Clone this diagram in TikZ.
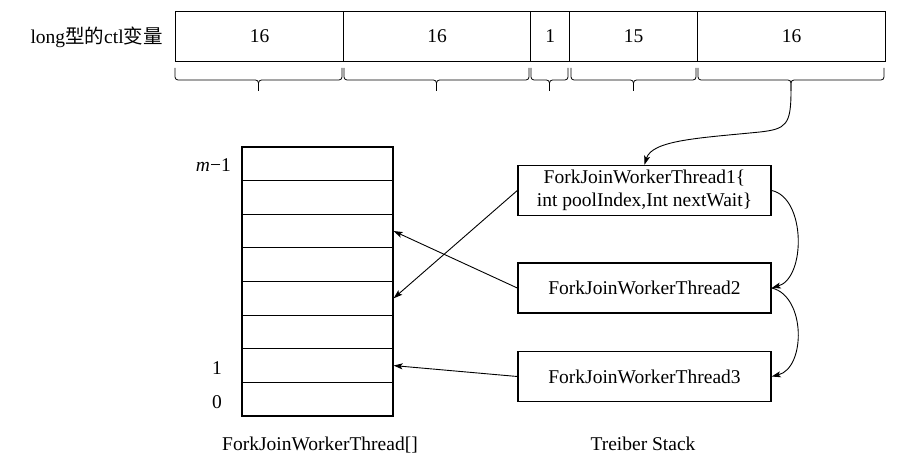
\documentclass[tikz,border=0pt]{standalone}
\usepackage{fontspec}
\setmainfont{Liberation Serif}
\newfontfamily\cjk{Noto Sans CJK SC}
\usetikzlibrary{arrows.meta}
\begin{document}
\begin{tikzpicture}[x=1pt,y=-1pt,
  every node/.style={font=\fontsize{19.5}{22}\selectfont},
  cell/.style={draw,line width=1.3pt,minimum height=50pt,inner sep=0pt,anchor=west},
  slot/.style={draw,line width=1.2pt,minimum width=151pt,minimum height=33.6pt,inner sep=0pt},
  tbox/.style={draw,line width=1.4pt,minimum width=253pt,minimum height=50pt,inner sep=0pt,align=center},
  bracepath/.style={line width=0.8pt,rounded corners=3pt},
  conn/.style={line width=0.9pt,-{Stealth[length=9pt,width=6pt,inset=2pt]}}]
\useasboundingbox[fill=white] (0,0) rectangle (919,470);

% top bar
\node[anchor=west] (ctl) at (27,37) {long{\cjk 型的}ctl{\cjk 变量}};
\node[cell,minimum width=168pt] (c1) at (175,36.5) {16};
\node[cell,minimum width=187pt] (c2) at (343,36.5) {16};
\node[cell,minimum width=39pt]  (c3) at (530,36.5) {1};
\node[cell,minimum width=128pt] (c4) at (569,36.5) {15};
\node[cell,minimum width=188pt] (c5) at (697,36.5) {16};

% braces
\foreach \a/\b/\n in {175/342/1,344/529/2,531/568/3,571/696/4,698/884/5}{
  \pgfmathsetmacro\m{(\a+\b)/2}
  \coordinate (tip\n) at (\m,91);
  \draw[bracepath] (\a,68) -- (\a,80) -- (\m,80) -- (tip\n);
  \draw[bracepath] (\b,68) -- (\b,80) -- (\m,80) -- (tip\n);
}
\coordinate (tip5) at (791,91);

% array
\foreach \k in {0,...,7}{
  \node[slot] (r\k) at (317.5,{416-33.625*(\k+0.5)}) {};
}
\node[anchor=east,inner sep=0pt] (lm) at (231,165) {\textit{m}−1};
\node (l1) at (217,368) {1};
\node (l0) at (217,402) {0};
\node (arrlabel) at (320,445) {ForkJoinWorkerThread[]};

% Treiber stack
\node[tbox,font=\fontsize{19.5}{23}\selectfont] (b1) at (644.5,190.5) {ForkJoinWorkerThread1\{\\int poolIndex,Int nextWait\}};
\node[tbox] (b2) at (644.5,288) {ForkJoinWorkerThread2};
\node[tbox] (b3) at (644.5,376.5) {ForkJoinWorkerThread3};
\node (stk) at (643,444) {Treiber Stack};

% connectors
\draw[conn] (tip5) .. controls (791,125) and (786,129) .. (760,132)
  .. controls (700,138) and (652,140) .. (b1.north);
\draw[conn] (b1.west) -- (r3.east);
\draw[conn] (b2.west) -- (r5.east);
\draw[conn] (b3.west) -- (r1.east);
\draw[conn] (b1.east) .. controls (806,198) and (806,278) .. (b2.east);
\draw[conn] (b2.east) .. controls (806,296) and (806,368) .. (b3.east);
\end{tikzpicture}
\end{document}
